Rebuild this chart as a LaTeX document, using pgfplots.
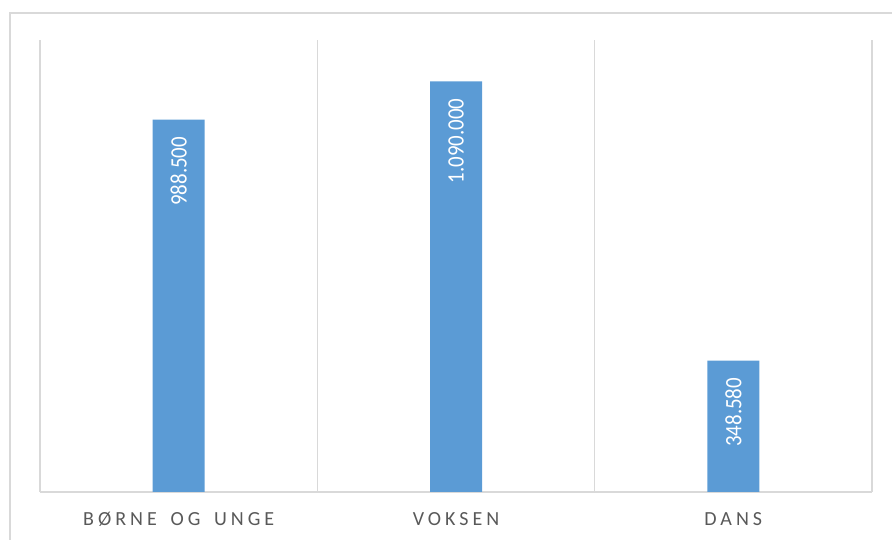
\documentclass[border=0pt]{standalone}
\usepackage{pgfplots}
\pgfplotsset{compat=1.18}
\usepackage{fontspec}
\setmainfont{Carlito}
\newfontfamily\catfont[LetterSpace=20, WordSpace=1.6]{Carlito}
\definecolor{barblue}{HTML}{5B9BD5}
\definecolor{gridgray}{HTML}{D9D9D9}
\definecolor{labelgray}{HTML}{595959}

\begin{document}
\begin{tikzpicture}[x=1pt,y=1pt]
\path[use as bounding box] (0,0) rectangle (892,540);
\draw[gridgray, line width=1.3pt] (10,-10) -- (10,527) -- (900,527);
\begin{axis}[
    at={(40pt,48pt)}, anchor=south west,
    scale only axis,
    width=832pt, height=452pt,
    xmin=-0.5, xmax=2.5,
    ymin=0, ymax=1200000,
    axis x line=bottom,
    axis y line=none,
    x axis line style={gridgray, line width=1.3pt, -},
    xtick={0,1,2},
    xticklabels={BØRNE OG UNGE, VOKSEN, DANS},
    major tick length=0pt,
    minor xtick={-0.5,0.5,1.5,2.5},
    minor tick length=0pt,
    xminorgrids=true,
    minor grid style={gridgray, line width=1.3pt},
    ytick=\empty,
    xticklabel style={font=\catfont\fontsize{20}{20}\selectfont, text=labelgray, anchor=base, yshift=-34pt},
    ybar,
    bar width=52pt,
    point meta=explicit symbolic,
    nodes near coords={\scalebox{0.89}[1]{\pgfplotspointmeta}},
    every node near coord/.append style={font=\fontsize{23.5}{23.5}\selectfont, text=white, rotate=90, anchor=east, inner sep=0pt, xshift=-17pt},
]
\addplot[fill=barblue, draw=none] table[x=x, y=y, meta=lab] {
x y lab
0 988500 988.500
1 1090000 1.090.000
2 348580 348.580
};
\end{axis}
\end{tikzpicture}
\end{document}
